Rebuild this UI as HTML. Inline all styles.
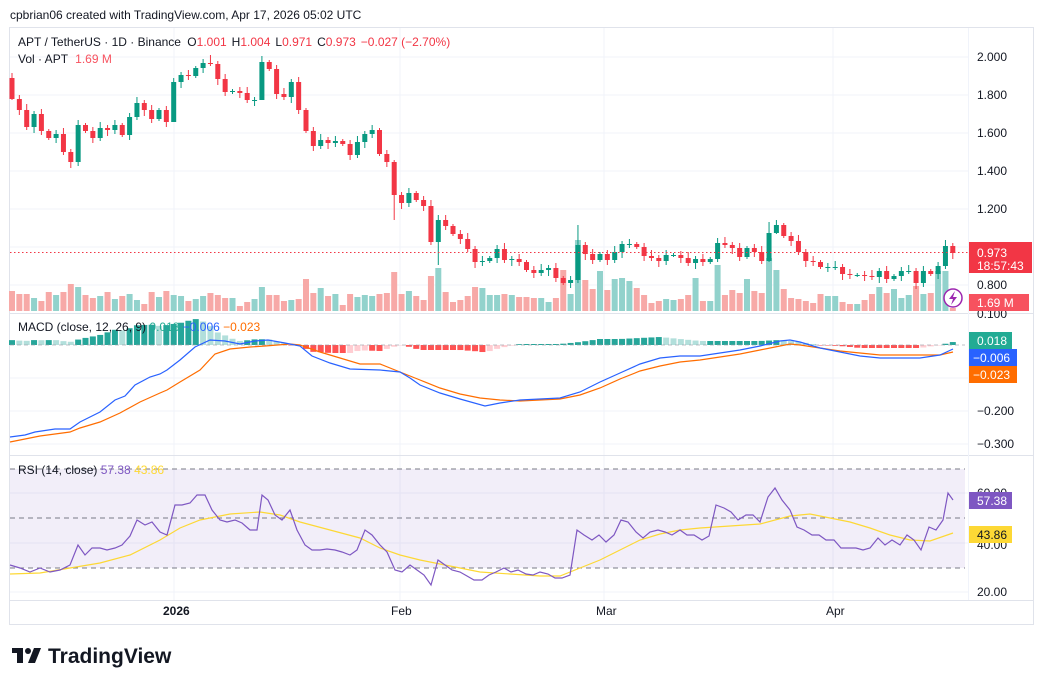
<!DOCTYPE html>
<html><head><meta charset="utf-8"><style>
body{margin:0;background:#fff;width:1044px;height:685px;overflow:hidden;font-family:"Liberation Sans",sans-serif;}
svg{position:absolute;left:0;top:0}
</style></head><body>
<svg id="s" width="1044" height="685" xmlns="http://www.w3.org/2000/svg" font-family="Liberation Sans, sans-serif"></svg>
<script>
const S=document.getElementById('s');let h='';
const G='#089981',R='#f23645';
h+='<rect x="9.5" y="27.5" width="1024" height="597" fill="none" stroke="#e0e3eb"/>';
h+='<text x="10" y="19" font-size="12" fill="#131722">cpbrian06 created with TradingView.com, Apr 17, 2026 05:02 UTC</text>';
[57,95,133,171,209,247,285].forEach(y=>h+=`<line x1="10" x2="968" y1="${y}" y2="${y}" stroke="#f0f3fa"/>`);
[411,444,378].forEach(y=>h+=`<line x1="10" x2="968" y1="${y}" y2="${y}" stroke="#f0f3fa"/>`);
[493,543,592].forEach(y=>h+=`<line x1="10" x2="968" y1="${y}" y2="${y}" stroke="#f0f3fa"/>`);
[174,400,604,833].forEach(x=>h+=`<line x1="${x}" x2="${x}" y1="28" y2="600" stroke="#f0f3fa"/>`);
[313,455,600].forEach(y=>h+=`<line x1="10" x2="1033" y1="${y}.5" y2="${y}.5" stroke="#e0e3eb"/>`);
h+='<line x1="968.5" x2="968.5" y1="28" y2="600" stroke="#f0f3fa"/>';
h+='<rect x="10" y="469" width="955" height="99" fill="#7e57c2" fill-opacity="0.1"/>';
[469,518,568].forEach(y=>h+=`<line x1="10" x2="965" y1="${y}" y2="${y}" stroke="#787b86" stroke-dasharray="5,4" stroke-width="1"/>`);
const C=[99,110,127,114,131,138,134,152,162,125,131,138,128,130,125,135,117,103,110,119,110,122,82,75,76,68,63,64,79,92,91,93,100,100,62,69,94,97,82,110,
131,146,140,143,141,144,155,142,134,130,154,162,195,203,193,200,206,242,220,226,234,239,249,262,261,258,249,260,259,262,270,273,270,268,278,283,280,245,254,260,
254,260,252,244,244,247,256,258,261,255,255,258,263,259,262,259,243,245,248,257,248,252,261,233,225,236,241,252,261,262,267,267,267,274,275,275,276,277,271,279,276,271,271,283,271,274,266,246,253];
const V=[20,17,17,13,10,19,16,19,27,24,16,13,15,19,12,15,17,11,7,19,14,20,16,15,10,12,15,18,16,13,13,5,9,12,24,16,16,10,11,12,
32,18,23,15,17,6,17,14,16,15,17,18,39,17,20,15,11,35,43,19,9,11,15,24,23,16,16,17,16,14,14,13,13,9,13,41,17,71,31,22,
40,21,32,33,30,23,16,8,10,12,11,12,16,33,10,10,46,16,21,18,32,20,18,53,41,22,13,12,10,8,17,15,15,9,7,7,11,17,24,18,22,13,16,25,17,18,40,40,3];
const wk={0:[73,100],27:[55,66],34:[56,100],52:[160,220],58:[215,265],77:[225,283],103:[222,262],104:[220,234],22:[78,94],96:[238,262]};
let prev=78;
for(let i=0;i<C.length;i++){
 const x=12+i*7.35,o=prev,c=C[i];prev=c;
 const up=c<=o;const col=up?G:R;
 let hi=Math.min(o,c)-2-(i*7%5),lo=Math.max(o,c)+2+(i*3%5);
 if(wk[i]){hi=wk[i][0];lo=wk[i][1];}
 const vh=V[i]||12;
 h+=`<rect x="${x-3}" y="${311-vh}" width="6" height="${vh}" fill="${up?'#92d2cc':'#f7a9a7'}"/>`;
 h+=`<line x1="${x}" x2="${x}" y1="${hi}" y2="${lo}" stroke="${col}"/>`;
 h+=`<rect x="${x-2.5}" y="${Math.min(o,c)}" width="5" height="${Math.max(1,Math.abs(c-o))}" fill="${col}"/>`;
}
h+='<line x1="10" x2="968" y1="252.5" y2="252.5" stroke="#f23645" stroke-dasharray="1.5,2.5"/>';
const B=[[10,437],[25,435],[35,432],[55,429],[70,429],[80,422],[100,412],[115,400],[125,396],[135,385],[150,377],[160,374],[167,370],[180,360],[195,347],[210,340],[225,341],[240,344],[255,341],[268,340],[285,343],[300,346],[312,356],[330,363],[350,369],[380,370],[400,372],[410,378],[420,385],[440,393],[460,399],[485,406],[500,403],[520,400],[540,399],[560,398],[580,392],[600,382],[620,373],[640,364],[660,358],[680,356],[700,356],[720,353],[740,350],[760,346],[780,341],[790,340],[800,342],[820,348],[840,352],[860,356],[880,358],[900,358],[920,358],[940,355],[953,349]];
const O=[[10,442],[40,436],[70,432],[80,428],[100,422],[120,413],[140,402],[160,393],[167,390],[180,382],[200,370],[215,354],[230,349],[250,347],[265,346],[290,344],[300,345],[320,352],[340,358],[360,364],[380,364],[400,372],[420,380],[440,388],[460,394],[480,398],[500,400],[520,401],[540,400],[560,399],[580,395],[600,388],[620,379],[640,371],[660,366],[680,362],[700,360],[720,357],[740,354],[760,350],[780,346],[790,344],[800,345],[820,348],[840,351],[860,353],[880,355],[900,355],[920,355],[940,355],[953,352]];
function it(a,x){for(let i=0;i<a.length-1;i++){if(x<=a[i+1][0]){const t=(x-a[i][0])/(a[i+1][0]-a[i][0]);return a[i][1]+t*(a[i+1][1]-a[i][1]);}}return a[a.length-1][1];}
let ph=0;
for(let i=0;i<129;i++){const x=12+i*7.35;let v=(it(O,x)-it(B,x));const a=Math.abs(v);
 let col;if(v>=0)col=v>=ph?'#26a69a':'#b2dfdb';else col=v<=ph?'#ff5252':'#ffcdd2';ph=v;
 h+=`<rect x="${x-3}" y="${v>=0?345-a:345}" width="6" height="${Math.max(a,0.5)}" fill="${col}"/>`;}
h+='<line x1="10" x2="965" y1="345" y2="345" stroke="#9598a1" stroke-dasharray="4,3" stroke-opacity="0.6"/>';
const pl=a=>a.map(p=>p.join(',')).join(' ');
h+=`<polyline points="${pl(O)}" fill="none" stroke="#ff6d00" stroke-width="1.2"/>`;
h+=`<polyline points="${pl(B)}" fill="none" stroke="#2962ff" stroke-width="1.2"/>`;
const RP=[[10,565],[20,568],[30,572],[40,568],[50,572],[60,570],[70,565],[78,545],[85,555],[92,548],[100,548],[107,550],[115,548],[122,545],[130,536],[137,520],[145,525],[152,522],[160,532],[167,535],[175,505],[182,505],[190,503],[197,495],[205,495],[212,510],[220,520],[227,522],[235,520],[242,523],[250,530],[257,530],[262,495],[268,500],[275,515],[282,520],[290,510],[297,530],[305,545],[312,550],[320,550],[327,549],[335,550],[342,552],[350,555],[357,550],[365,530],[372,535],[380,545],[387,552],[395,570],[402,572],[410,565],[417,570],[424,575],[431,585],[438,560],[445,565],[452,570],[460,572],[467,576],[474,580],[482,580],[489,575],[496,572],[504,568],[511,572],[518,570],[526,574],[533,575],[540,572],[548,574],[555,578],[562,578],[570,575],[577,530],[584,535],[592,540],[599,535],[606,542],[614,535],[621,520],[628,522],[636,532],[643,538],[650,532],[658,530],[665,532],[672,535],[680,530],[687,535],[694,535],[702,540],[709,536],[716,505],[724,508],[731,512],[738,520],[746,515],[753,515],[760,522],[768,497],[775,488],[782,500],[790,510],[797,527],[804,530],[812,535],[819,535],[826,540],[834,540],[841,548],[848,548],[856,548],[863,550],[870,548],[878,538],[885,545],[892,540],[900,545],[907,535],[914,540],[921,550],[929,527],[936,530],[943,520],[948,493],[953,500]];
const RY=[[10,574],[40,573],[70,568],[100,563],[130,555],[160,540],[180,528],[200,520],[230,514],[260,512],[280,515],[300,522],[330,530],[360,538],[380,548],[400,555],[420,560],[450,566],[480,572],[510,574],[540,576],[560,576],[580,568],[600,560],[620,550],[640,540],[660,534],[680,530],[700,528],[730,526],[760,524],[790,516],[810,514],[830,518],[850,522],[870,528],[890,535],[910,540],[930,541],[953,533]];
h+=`<polyline points="${pl(RY)}" fill="none" stroke="#fdd835" stroke-width="1.2"/>`;
h+=`<polyline points="${pl(RP)}" fill="none" stroke="#7e57c2" stroke-width="1.2"/>`;
const T=(x,y,t,c,s,w)=>`<text x="${x}" y="${y}" font-size="${s||12}" fill="${c||'#131722'}" ${w?'font-weight="bold"':''}>${t}</text>`;
[[57,'2.000'],[95,'1.800'],[133,'1.600'],[171,'1.400'],[209,'1.200'],[285,'0.800'],[411,'−0.200'],[444,'−0.300'],[592,'20.00'],[493,'60.00'],[545,'40.00']].forEach(a=>h+=T(977,a[0]+4,a[1]));
h+=T(977,318,'0.100');
h+='<rect x="969" y="242" width="63" height="31" fill="#f23645"/>'+T(977,257,'0.973','#fff',12)+T(977,270,'18:57:43','#fff',12);
h+='<rect x="969" y="294" width="60" height="17" fill="#f7525f"/>'+T(977,307,'1.69 M','#fff',12);
h+='<rect x="969" y="332" width="43" height="17" fill="#22ab94"/>'+T(977,345,'0.018','#fff',12);
h+='<rect x="969" y="349" width="48" height="17" fill="#2962ff"/>'+T(973,362,'−0.006','#fff',12);
h+='<rect x="969" y="366" width="48" height="17" fill="#ff6d00"/>'+T(973,379,'−0.023','#fff',12);
h+='<rect x="969" y="492" width="43" height="17" fill="#7e57c2"/>'+T(977,505,'57.38','#fff',12);
h+='<rect x="969" y="526" width="43" height="17" fill="#fdd835"/>'+T(977,539,'43.86','#131722',12);
h+='<circle cx="953" cy="298" r="9" fill="#fff" stroke="#9c27b0" stroke-width="1.5"/><path d="M955 291 L949 299 L953 299 L951 305 L957 297 L953 297 Z" fill="#9c27b0"/>';
h+=T(163,615,'2026','#131722',12,1)+T(391,615,'Feb')+T(596,615,'Mar')+T(826,615,'Apr');
h+=`<text x="18" y="46" font-size="12" fill="#131722">APT / TetherUS · 1D · Binance <tspan dx="3">O</tspan><tspan fill="#f23645">1.001</tspan><tspan dx="5">H</tspan><tspan fill="#f23645">1.004</tspan><tspan dx="5">L</tspan><tspan fill="#f23645">0.971</tspan><tspan dx="5">C</tspan><tspan fill="#f23645">0.973</tspan><tspan dx="5" fill="#f23645">−0.027 (−2.70%)</tspan></text>`;
h+=`<text x="18" y="63" font-size="12" fill="#131722">Vol · APT <tspan dx="4" fill="#f7525f">1.69 M</tspan></text>`;
h+=`<text x="18" y="331" font-size="12" fill="#131722">MACD (close, 12, 26, 9) <tspan fill="#22ab94">0.018</tspan> <tspan fill="#2962ff">−0.006</tspan> <tspan fill="#ff6d00">−0.023</tspan></text>`;
h+=`<text x="18" y="474" font-size="12" fill="#131722">RSI (14, close) <tspan fill="#7e57c2">57.38</tspan> <tspan fill="#fdd835">43.86</tspan></text>`;
h+='<rect x="12" y="648" width="11" height="5" fill="#131722"/><rect x="17" y="648" width="6" height="15" fill="#131722"/><circle cx="28" cy="651" r="3" fill="#131722"/><path d="M34 648 L41 648 L35 663 L28 663 Z" fill="#131722"/>';
h+='<text x="48" y="663" font-size="21" font-weight="bold" fill="#131722">TradingView</text>';
S.innerHTML=h;
</script>
</body></html>
